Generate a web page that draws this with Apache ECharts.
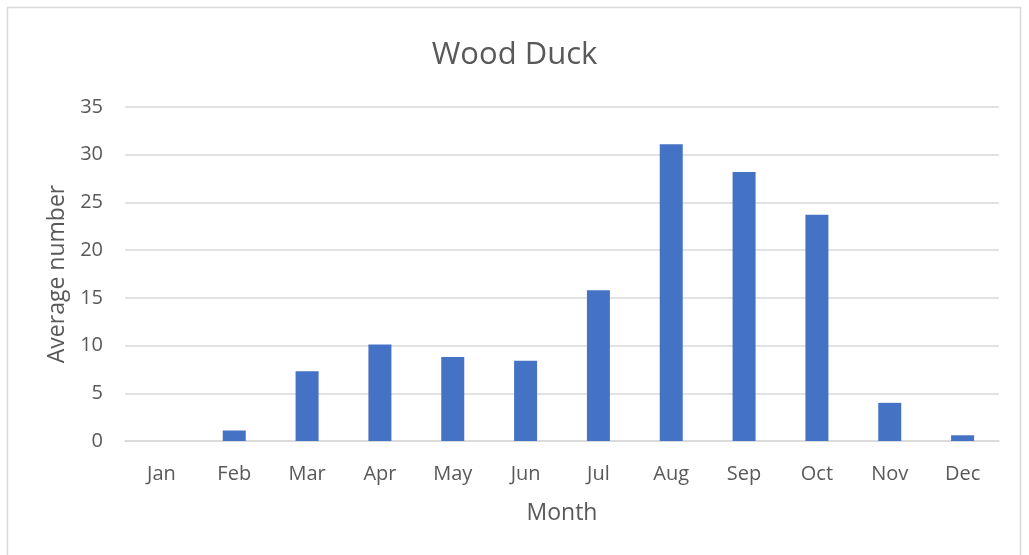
<!DOCTYPE html>
<html>
<head>
<meta charset="utf-8">
<script src="https://cdn.jsdelivr.net/npm/echarts@6/dist/echarts.min.js"></script>
<style>
  html, body { margin: 0; padding: 0; background: #fff; }
  #chart { width: 1029px; height: 555px; }
</style>
</head>
<body>
<div id="chart"></div>
<script>
const months = ['Jan', 'Feb', 'Mar', 'Apr', 'May', 'Jun', 'Jul', 'Aug', 'Sep', 'Oct', 'Nov', 'Dec']
const avgNumber = [0, 1.1, 7.3, 10.1, 8.8, 8.4, 15.8, 31.1, 28.2, 23.7, 4.0, 0.6]

const font = '"Open Sans", "Liberation Sans", sans-serif'
const textColor = '#595959'

const chart = echarts.init(document.getElementById('chart'))
chart.setOption({
  animation: false,
  title: {
    text: 'Wood Duck',
    left: 'center',
    top: 35,
    textStyle: { fontFamily: font, fontSize: 31, fontWeight: 'normal', color: textColor }
  },
  graphic: [{
    type: 'rect',
    shape: { x: 7.5, y: 7.5, width: 1013, height: 560 },
    style: { fill: 'none', stroke: '#d9d9d9', lineWidth: 1.5 },
    silent: true
  }],
  grid: { left: 125, right: 30, top: 107, bottom: 114 },
  xAxis: {
    type: 'category',
    data: months,
    name: 'Month',
    nameLocation: 'middle',
    nameGap: 61,
    nameTextStyle: { fontFamily: font, fontSize: 23, color: textColor },
    axisLine: { lineStyle: { color: '#d9d9d9', width: 1.5 } },
    axisTick: { show: false },
    axisLabel: { fontFamily: font, fontSize: 20, color: textColor, margin: 23 }
  },
  yAxis: {
    type: 'value',
    min: 0,
    max: 35,
    interval: 5,
    name: 'Average number',
    nameLocation: 'middle',
    nameGap: 56,
    nameTextStyle: { fontFamily: font, fontSize: 23, color: textColor },
    axisLine: { show: false },
    axisTick: { show: false },
    axisLabel: { fontFamily: font, fontSize: 20, color: textColor, margin: 22 },
    splitLine: { lineStyle: { color: '#d9d9d9', width: 1.5 } }
  },
  series: [{
    type: 'bar',
    data: avgNumber,
    barWidth: 23,
    itemStyle: { color: '#4472c4' }
  }]
})
</script>
</body>
</html>
